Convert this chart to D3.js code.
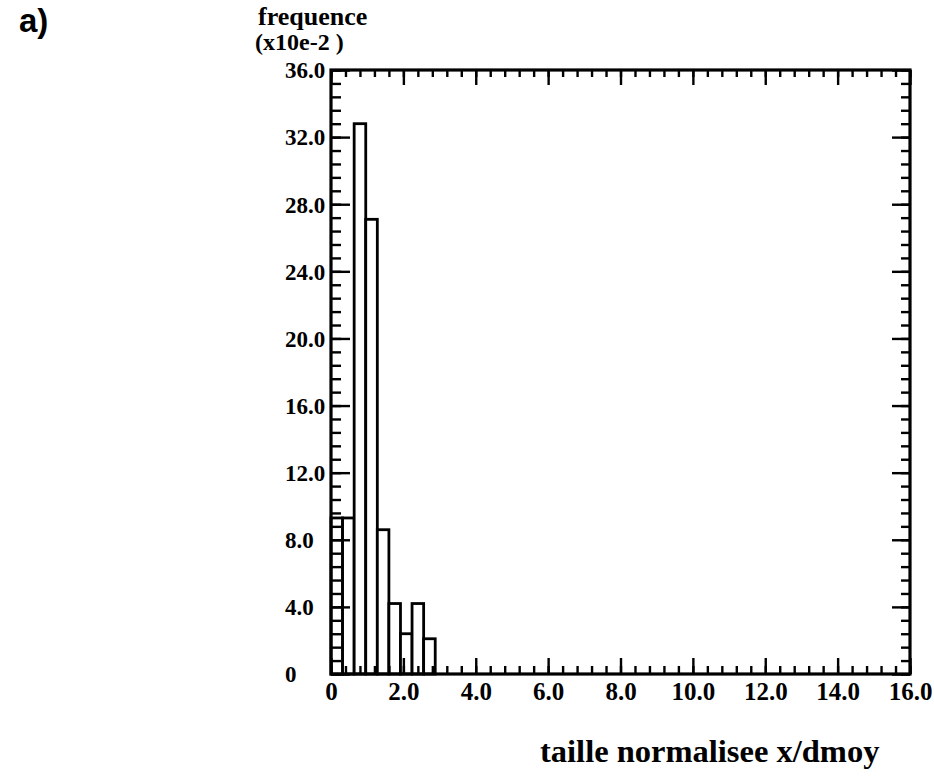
<!DOCTYPE html>
<html>
<head>
<meta charset="utf-8">
<script src="https://cdn.jsdelivr.net/npm/d3@7"></script>
<style>
  html, body { margin: 0; padding: 0; background: #fff; }
  svg text { font-family: "Liberation Serif", "Times New Roman", serif; font-weight: bold; fill: #000; }
</style>
</head>
<body>
<svg id="chart" width="934" height="777"></svg>
<script>
// ---- data ----
const binStarts = [0, 0.32, 0.64, 0.96, 1.28, 1.60, 1.92, 2.24, 2.56];
const binWidth = 0.32;
const frequence = [9.3, 9.3, 32.8, 27.1, 8.6, 4.2, 2.4, 4.2, 2.1];
const xMajorTicks = [0, 2, 4, 6, 8, 10, 12, 14, 16];
const xTickLabels = ["0", "2.0", "4.0", "6.0", "8.0", "10.0", "12.0", "14.0", "16.0"];
const yMajorTicks = [0, 4, 8, 12, 16, 20, 24, 28, 32, 36];
const yTickLabels = ["0", "4.0", "8.0", "12.0", "16.0", "20.0", "24.0", "28.0", "32.0", "36.0"];
const xMinorStep = 0.4;
const yMinorStep = 0.8;

const svg = d3.select("#chart");
const L = 331, R = 910, T = 70, B = 674;
const x = d3.scaleLinear().domain([0, 16]).range([L, R]);
const y = d3.scaleLinear().domain([0, 36]).range([B, T]);

const xMinor = d3.range(0, 16 + 1e-9, xMinorStep);
const yMinor = d3.range(0, 36 + 1e-9, yMinorStep);

// bars
svg.append("g").selectAll("rect").data(binStarts).join("rect")
  .attr("x", d => x(d))
  .attr("y", (d, i) => y(frequence[i]))
  .attr("width", d => x(d + binWidth) - x(d))
  .attr("height", (d, i) => y(0) - y(frequence[i]))
  .attr("fill", "#fff").attr("stroke", "#000").attr("stroke-width", 2.8);

function styleAxis(g) {
  g.select(".domain").remove();
  g.selectAll(".tick line").attr("stroke", "#000").attr("stroke-width", 2.4);
}

// bottom axis
svg.append("g").attr("transform", `translate(0,${B})`)
  .call(d3.axisBottom(x).tickValues(xMinor).tickSize(-8).tickFormat(""))
  .call(styleAxis);
svg.append("g").attr("transform", `translate(0,${B})`)
  .call(d3.axisBottom(x).tickValues(xMajorTicks).tickSize(-16).tickPadding(7)
        .tickFormat((d, i) => xTickLabels[i]))
  .call(styleAxis)
  .call(g => g.selectAll("text").style("font-size", "25px")
        .style("font-family", '"Liberation Serif", serif').style("font-weight", "bold").attr("dy", "0.75em"));

// top axis
svg.append("g").attr("transform", `translate(0,${T})`)
  .call(d3.axisTop(x).tickValues(xMinor).tickSize(-7).tickFormat(""))
  .call(styleAxis);
svg.append("g").attr("transform", `translate(0,${T})`)
  .call(d3.axisTop(x).tickValues(xMajorTicks).tickSize(-15).tickFormat(""))
  .call(styleAxis);

// left axis
svg.append("g").attr("transform", `translate(${L},0)`)
  .call(d3.axisLeft(y).tickValues(yMinor).tickSize(-10).tickFormat(""))
  .call(styleAxis);
svg.append("g").attr("transform", `translate(${L},0)`)
  .call(d3.axisLeft(y).tickValues(yMajorTicks).tickSize(-19).tickFormat(""))
  .call(styleAxis);

// right axis
svg.append("g").attr("transform", `translate(${R},0)`)
  .call(d3.axisRight(y).tickValues(yMinor).tickSize(-9).tickFormat(""))
  .call(styleAxis);
svg.append("g").attr("transform", `translate(${R},0)`)
  .call(d3.axisRight(y).tickValues(yMajorTicks).tickSize(-18).tickFormat(""))
  .call(styleAxis);

// y labels (left aligned)
svg.append("g").selectAll("text").data(yMajorTicks).join("text")
  .attr("x", 285)
  .attr("y", d => y(d))
  .attr("dy", "0.36em")
  .style("font-size", "23px")
  .text((d, i) => yTickLabels[i]);

// frame
svg.append("rect").attr("x", L).attr("y", T).attr("width", R - L).attr("height", B - T)
  .attr("fill", "none").attr("stroke", "#000").attr("stroke-width", 3.2);

// titles
svg.append("text").attr("x", 19).attr("y", 32)
  .style("font-family", '"Liberation Sans", Arial, sans-serif').style("font-size", "33px")
  .text("a)");
svg.append("text").attr("x", 258).attr("y", 25).style("font-size", "26px").text("frequence");
svg.append("text").attr("x", 255).attr("y", 50).style("font-size", "24px").text("(x10e-2 )");
svg.append("text").attr("x", 540).attr("y", 762).style("font-size", "32.5px").text("taille normalisee x/dmoy");
</script>
</body>
</html>
